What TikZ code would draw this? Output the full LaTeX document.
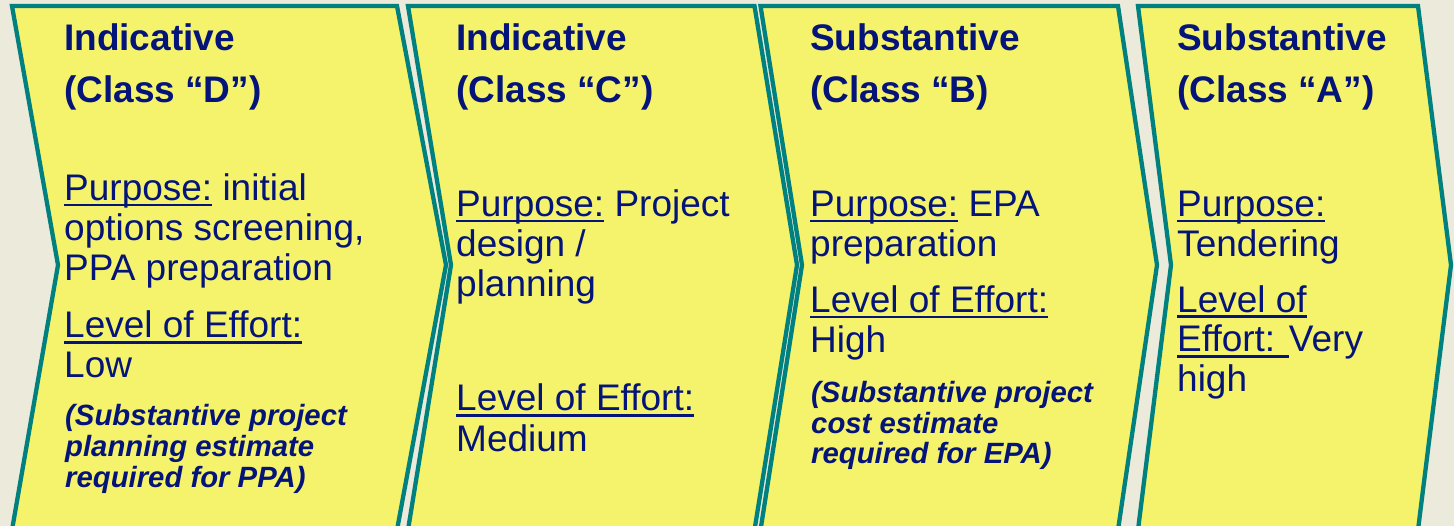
\documentclass[tikz,border=0pt]{standalone}
\usepackage{fontspec}
\setmainfont{Liberation Sans}
\definecolor{stagefill}{RGB}{245,243,107}
\definecolor{stageedge}{RGB}{0,128,126}
\definecolor{pagebg}{RGB}{236,234,218}
\definecolor{inknavy}{RGB}{5,20,120}
% underline drawn just under the baseline, through the descenders
\newcommand\ulbl[1]{\setbox0=\hbox{#1}\rlap{\rule[-5.5pt]{\wd0}{2.5pt}}\box0\relax}
\tikzset{
  chev/.style={draw=stageedge, line width=4.3pt, fill=stagefill, line join=miter},
  % nodes sit on the baseline of their last line
  head/.style={anchor=base west, inner sep=0pt, align=left, text=inknavy,
    font=\fontsize{37}{52}\selectfont\bfseries},
  body/.style={anchor=base west, inner sep=0pt, align=left, text=inknavy,
    font=\fontsize{37}{40}\selectfont},
  note/.style={anchor=base west, inner sep=0pt, align=left, text=inknavy,
    font=\fontsize{29.3}{31}\selectfont\bfseries\itshape}
}

\begin{document}
\begin{tikzpicture}[x=1pt, y=-1pt]
\fill[pagebg] (0,0) rectangle (1454,526);
\useasboundingbox (0,0) rectangle (1454,526);
\clip (0,0) rectangle (1454,526);

% the four estimate classes as chevrons
\foreach \xl/\nl/\xr/\pr in {12/58/397/446, 408/451/754.5/797,
                             760.5/802/1118/1157, 1138/1171/1418/1451}
  \draw[chev] (\xl,6) -- (\xr,6) -- (\pr,265) -- (\xr,530) -- (\xl,530)
    -- (\nl,265) -- cycle;

% class D
\node (dhead) [head] at (64,103) {Indicative\\(Class “D”)};
\node (dpurp) [body] at (64,281) {\ulbl{Purpose:} initial\\options screening,\\PPA preparation};
\node (deff)  [body] at (64,378) {\ulbl{Level of Effort:}\\Low};
\node (dnote) [note] at (65,487) {(Substantive project\\planning estimate\\required for PPA)};

% class C
\node (chead) [head] at (456,103) {Indicative\\(Class “C”)};
\node (cpurp) [body] at (456,297) {\ulbl{Purpose:} Project\\design /\\planning};
\node (ceff)  [body] at (456,451) {\ulbl{Level of Effort:}\\Medium};

% class B
\node (bhead) [head] at (810,103) {Substantive\\(Class “B)};
\node (bpurp) [body] at (810,257) {\ulbl{Purpose:} EPA\\preparation};
\node (beff)  [body] at (810,353) {\ulbl{Level of Effort:}\\High};
\node (bnote) [note] at (811,464) {(Substantive project\\cost estimate\\required for EPA)};

% class A
\node (ahead) [head] at (1177,103) {Substantive\\(Class “A”)};
\node (apurp) [body] at (1177,257) {\ulbl{Purpose:}\\Tendering};
\node (aeff)  [body] at (1177,392) {\ulbl{Level of}\\\ulbl{Effort: }Very\\high};
\end{tikzpicture}
\end{document}
